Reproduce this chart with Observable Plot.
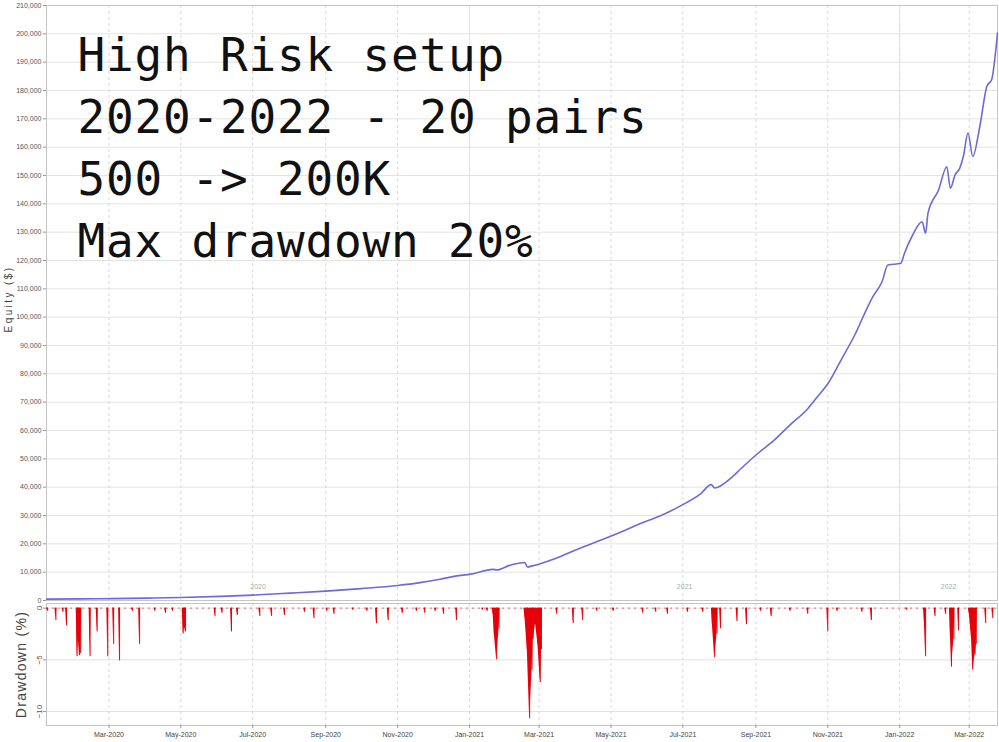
<!DOCTYPE html>
<html>
<head>
<meta charset="utf-8">
<script src="https://cdn.jsdelivr.net/npm/d3@7"></script>
<script src="https://cdn.jsdelivr.net/npm/@observablehq/plot@0.6"></script>
<style>
  html, body { margin: 0; padding: 0; background: #fff; }
  #chart { position: relative; width: 999px; height: 742px; overflow: hidden; background: #fff; }
  #toppanel, #bottompanel { position: absolute; left: 0; }
  #toppanel { top: 0; }
  #bottompanel { top: 600px; }
  svg { overflow: visible; }
</style>
</head>
<body>
<div id="chart"><div id="toppanel"></div><div id="bottompanel"></div></div>
<script>
// ---------- data ----------
const titleLines = ["High Risk setup", "2020-2022 - 20 pairs", "500 -> 200K", "Max drawdown 20%"];
const equityTitle = "Equity ($)";
const drawdownTitle = "Drawdown (%)";

const eqDates = ["2020-01-08","2020-02-05","2020-03-02","2020-04-05","2020-05-01","2020-06-04","2020-07-01","2020-08-02","2020-09-01","2020-10-01","2020-11-01","2020-11-20","2020-12-07","2020-12-20","2021-01-02","2021-01-21","2021-01-24","2021-02-04","2021-02-17","2021-02-19","2021-02-24","2021-03-02","2021-03-16","2021-03-30","2021-04-13","2021-04-28","2021-05-13","2021-05-26","2021-06-12","2021-06-29","2021-07-16","2021-07-25","2021-07-28","2021-08-10","2021-08-19","2021-09-02","2021-09-16","2021-09-30","2021-10-15","2021-10-23","2021-11-01","2021-11-12","2021-11-23","2021-12-09","2021-12-17","2021-12-22","2022-01-02","2022-01-05","2022-01-12","2022-01-20","2022-01-23","2022-01-25","2022-02-03","2022-02-10","2022-02-13","2022-02-17","2022-02-21","2022-02-24","2022-02-28","2022-03-04","2022-03-10","2022-03-16","2022-03-20","2022-03-25"];
const eqValues = [500,560,650,850,1050,1450,1900,2600,3300,4200,5300,6300,7500,8600,9300,11000,10800,12400,13400,11850,12300,13000,15000,17500,19800,22200,24800,27200,29900,33400,37600,40900,39700,42900,46400,51700,56400,62000,67700,71800,76500,84700,93000,107100,112500,118400,119000,122500,129000,133700,129600,136700,144900,153100,145500,150200,152600,156700,165000,156700,167300,181500,183800,200300];

const ddDates = ["2020-01-09","2020-01-16","2020-01-22","2020-01-25","2020-02-03","2020-02-04","2020-02-05","2020-02-06","2020-02-14","2020-02-20","2020-02-29","2020-03-05","2020-03-10","2020-03-21","2020-03-27","2020-04-09","2020-04-18","2020-04-24","2020-05-03","2020-05-04","2020-05-05","2020-05-30","2020-06-05","2020-06-13","2020-06-18","2020-07-07","2020-07-17","2020-07-28","2020-08-14","2020-08-22","2020-09-02","2020-09-08","2020-09-24","2020-10-06","2020-10-14","2020-10-24","2020-11-05","2020-11-17","2020-11-24","2020-12-03","2020-12-10","2020-12-21","2021-01-12","2021-01-16","2021-01-21","2021-01-22","2021-01-24","2021-01-26","2021-02-17","2021-02-19","2021-02-21","2021-02-23","2021-02-24","2021-02-26","2021-02-28","2021-03-02","2021-03-03","2021-03-16","2021-03-30","2021-04-07","2021-04-19","2021-05-03","2021-05-28","2021-06-08","2021-06-18","2021-07-05","2021-07-18","2021-07-26","2021-07-28","2021-07-30","2021-08-02","2021-08-16","2021-08-24","2021-09-05","2021-09-14","2021-09-30","2021-10-15","2021-11-01","2021-11-09","2021-11-30","2021-12-08","2022-01-07","2022-01-22","2022-01-23","2022-01-31","2022-02-09","2022-02-13","2022-02-14","2022-02-16","2022-02-20","2022-03-01","2022-03-03","2022-03-04","2022-03-06","2022-03-07","2022-03-15","2022-03-21"];
const ddValues = [-0.3,-1.2,-0.4,-1.7,-4.7,-3.0,-4.6,-4.4,-4.7,-2.3,-4.7,-3.5,-5.1,-0.3,-3.5,-0.3,-0.5,-0.3,-2.5,-1.8,-2.3,-0.8,-0.5,-2.3,-0.7,-0.8,-0.8,-0.7,-0.4,-1.0,-0.3,-0.6,-0.2,-0.3,-1.5,-1.2,-0.5,-0.3,-0.5,-0.3,-0.6,-1.2,-0.2,-0.3,-0.6,-2.5,-5.0,-2.0,-0.9,-4.0,-10.7,-6.0,-3.0,-1.5,-3.5,-7.2,-4.0,-0.6,-1.5,-1.2,-0.3,-0.3,-0.5,-0.4,-0.6,-0.4,-0.4,-1.5,-4.8,-2.5,-2.0,-1.3,-1.6,-0.3,-0.8,-0.3,-0.6,-2.3,-0.3,-0.4,-1.2,-0.2,-1.5,-4.7,-0.8,-0.6,-2.5,-5.7,-3.0,-2.2,-0.5,-3.0,-6.0,-4.5,-3.5,-1.5,-1.0];

const xStart = "2020-01-08", xEnd = "2022-03-25";
const monthTicks = ["2020-03-01","2020-05-01","2020-07-01","2020-09-01","2020-11-01","2021-01-01","2021-03-01","2021-05-01","2021-07-01","2021-09-01","2021-11-01","2022-01-01","2022-03-01"];
const yearStarts = ["2021-01-01","2022-01-01"];
const yearNames = ["2020","2021","2022"];
const equityTicks = [0,10000,20000,30000,40000,50000,60000,70000,80000,90000,100000,110000,120000,130000,140000,150000,160000,170000,180000,190000,200000,210000];
const drawdownTicks = [0,-5,-10];

// ---------- build tables ----------
const DAY = 86400000;
const xDomain = [new Date(xStart), new Date(xEnd)];
const equity = eqDates.map((d, i) => ({date: new Date(d), value: eqValues[i]}));
const dd = ddDates.map((d, i) => ({date: new Date(d), value: ddValues[i]}));
const ddSeries = [];
dd.forEach((p, i) => {
  const prev = dd[i - 1], next = dd[i + 1];
  if (!prev || p.date - prev.date > 2 * DAY) ddSeries.push({date: new Date(+p.date - 0.8 * DAY), value: 0});
  ddSeries.push(p);
  if (!next || next.date - p.date > 2 * DAY) ddSeries.push({date: new Date(+p.date + 0.8 * DAY), value: 0});
});
const months = monthTicks.map(d => new Date(d));
const years = yearStarts.map(d => new Date(d));
const bounds = [xDomain[0], ...years, xDomain[1]];
const yearLabels = yearNames.map((y, i) => ({year: y, mid: new Date((+bounds[i] + +bounds[i + 1]) / 2)}));

const font = "'Liberation Sans', Arial, sans-serif";
const gridColor = "#e3e3e3";
const red = "#e8000a";

function spaceText(svg, content, spacing) {
  d3.select(svg).selectAll("text").filter(function () { return this.textContent === content; }).attr("letter-spacing", spacing);
}

// ---------- top panel ----------
const topChart = Plot.plot({
  width: 999, height: 603,
  marginLeft: 46, marginRight: 2, marginTop: 5, marginBottom: 3,
  style: {fontFamily: font, background: "transparent", overflow: "visible"},
  x: {type: "utc", domain: xDomain, axis: null},
  y: {domain: [0, 210000], axis: null},
  marks: [
    Plot.gridY(equityTicks, {stroke: gridColor, strokeOpacity: 1}),
    Plot.gridX(months, {stroke: "#d9d9d9", strokeOpacity: 1, strokeDasharray: "3,3"}),
    Plot.ruleX(years, {stroke: "#e2e2e2"}),
    Plot.frame({stroke: "#c4c4c4"}),
    Plot.axisY(equityTicks, {label: null, tickFormat: d3.format(","), fontSize: 7, tickSize: 3, tickPadding: 2, stroke: "#999", fill: "#555"}),
    Plot.text(yearLabels, {x: "mid", frameAnchor: "bottom", dy: -12, text: "year", fill: "#aaa", fontSize: 7}),
    Plot.lineY(equity, {x: "date", y: "value", stroke: "#6b6bd9", strokeWidth: 1.6, curve: "monotone-x"}),
    Plot.text([titleLines.join("\n")], {frameAnchor: "top-left", textAnchor: "start", lineAnchor: "top", dx: 31, dy: 21, fontSize: 46, fontFamily: "'DejaVu Sans Mono', monospace", lineHeight: 1.348, fill: "#111"}),
    Plot.text([equityTitle], {frameAnchor: "left", textAnchor: "middle", rotate: -90, dx: -38, dy: -4, fontSize: 10, fill: "#444"})
  ]
});
document.getElementById("toppanel").appendChild(topChart);
d3.select(topChart).selectAll("g[font-size='46']").attr("letter-spacing", "0.8px");
spaceText(topChart, equityTitle, "2.4px");

// ---------- bottom panel ----------
const bottomChart = Plot.plot({
  width: 999, height: 142,
  marginLeft: 46, marginRight: 2, marginTop: 3, marginBottom: 17,
  style: {fontFamily: font, background: "transparent", overflow: "visible"},
  x: {type: "utc", domain: xDomain, axis: null},
  y: {domain: [-11.35, 0.45], axis: null},
  marks: [
    Plot.gridY(drawdownTicks, {stroke: gridColor, strokeOpacity: 1}),
    Plot.gridX(months, {stroke: "#d9d9d9", strokeOpacity: 1, strokeDasharray: "3,3"}),
    Plot.frame({stroke: "#c4c4c4"}),
    Plot.ruleY([0], {stroke: red, strokeOpacity: 0.55, strokeDasharray: "2,4"}),
    Plot.areaY(ddSeries, {x: "date", y: "value", fill: red}),
    Plot.ruleX(dd, {x: "date", y1: 0, y2: "value", stroke: red, strokeWidth: 1}),
    Plot.axisY(drawdownTicks, {label: null, tickRotate: -90, fontSize: 8, tickSize: 3, tickPadding: 2, stroke: "#999", fill: "#555"}),
    Plot.axisX(months, {label: null, tickFormat: d3.utcFormat("%b-%Y"), fontSize: 7, tickSize: 3, tickPadding: 4, stroke: "#999", fill: "#444"}),
    Plot.text([drawdownTitle], {frameAnchor: "left", textAnchor: "middle", rotate: -90, dx: -25, fontSize: 14, fill: "#444"})
  ]
});
document.getElementById("bottompanel").appendChild(bottomChart);
spaceText(bottomChart, drawdownTitle, "1.3px");
</script>
</body>
</html>
